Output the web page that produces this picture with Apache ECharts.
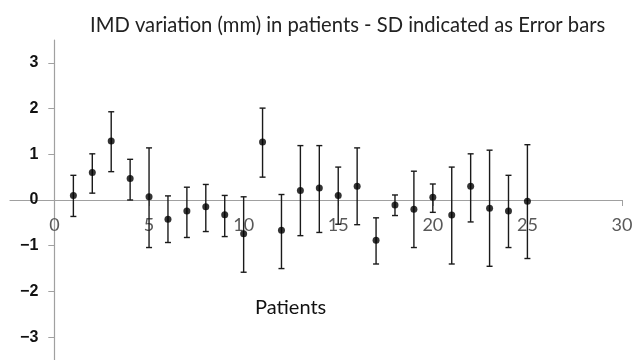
<!DOCTYPE html>
<html>
<head>
<meta charset="utf-8">
<script src="https://cdn.jsdelivr.net/npm/echarts@6/dist/echarts.min.js"></script>
<style>
  html, body { margin: 0; padding: 0; background: #fff; }
  #main { width: 633px; height: 360px; }
</style>
</head>
<body>
<div id="main"></div>
<script>
// patients 1..25
const patients = [1,2,3,4,5,6,7,8,9,10,11,12,13,14,15,16,17,18,19,20,21,22,23,24,25];
// mean IMD variation (mm)
const means = [0.10,0.60,1.29,0.47,0.07,-0.42,-0.24,-0.15,-0.32,-0.74,1.27,-0.66,0.21,0.26,0.10,0.30,-0.88,-0.11,-0.20,0.06,-0.33,0.30,-0.18,-0.24,-0.03];
// SD error bar ends
const barTop = [0.54,1.01,1.93,0.89,1.14,0.09,0.28,0.34,0.10,0.07,2.01,0.12,1.19,1.19,0.72,1.14,-0.39,0.11,0.63,0.35,0.72,1.01,1.09,0.54,1.21];
const barBottom = [-0.36,0.15,0.62,0.00,-1.04,-0.93,-0.82,-0.69,-0.80,-1.58,0.50,-1.50,-0.78,-0.71,-0.53,-0.54,-1.40,-0.34,-1.04,-0.27,-1.40,-0.48,-1.45,-1.04,-1.28];
const xTicks = [0,5,10,15,20,25,30];
const yTicks = [-3,-2,-1,0,1,2,3];

const chart = echarts.init(document.getElementById('main'));

const pointData = patients.map((p, i) => [p, means[i]]);
const errData = patients.map((p, i) => [p, barBottom[i], barTop[i]]);

// vertical SD bar with caps
function renderErr(params, api) {
  const x = api.value(0);
  const lo = api.coord([x, api.value(1)]);
  const hi = api.coord([x, api.value(2)]);
  const cap = 3;
  const style = { stroke: '#1a1a1a', lineWidth: 1.4 };
  return {
    type: 'group',
    children: [
      { type: 'line', shape: { x1: lo[0], y1: lo[1], x2: hi[0], y2: hi[1] }, style: style },
      { type: 'line', shape: { x1: hi[0] - cap, y1: hi[1], x2: hi[0] + cap, y2: hi[1] }, style: style },
      { type: 'line', shape: { x1: lo[0] - cap, y1: lo[1], x2: lo[0] + cap, y2: lo[1] }, style: style }
    ]
  };
}

chart.setOption({
  animation: false,
  title: [
    {
      text: 'IMD variation (mm) in patients - SD indicated as Error bars',
      left: 85, top: 10,
      textStyle: { fontFamily: 'Lato', fontSize: 20.2, fontWeight: 'normal', color: '#222' }
    },
    {
      text: 'Patients',
      left: 250, top: 293,
      textStyle: { fontFamily: 'Lato', fontSize: 20, fontWeight: 'normal', color: '#111' }
    }
  ],
  grid: { left: 10, right: 11, top: 40, bottom: 0, outerBoundsMode: 'none' },
  xAxis: {
    type: 'value',
    min: -2.35, max: 30,
    offset: -160,
    axisLine: { onZero: false, lineStyle: { color: '#a0a0a0', width: 1.2 } },
    axisTick: { customValues: xTicks, length: 6, lineStyle: { color: '#a0a0a0' } },
    axisLabel: {
      customValues: xTicks,
      margin: 16,
      color: '#595959', fontSize: 18, fontFamily: 'Lato'
    },
    splitLine: { show: false }
  },
  yAxis: {
    type: 'value',
    min: -3.5, max: 3.5,
    offset: -44.3,
    axisLine: { show: true, onZero: false, lineStyle: { color: '#a0a0a0', width: 1.2 } },
    axisTick: { show: true, customValues: yTicks, length: 6, lineStyle: { color: '#a0a0a0' } },
    axisLabel: {
      customValues: yTicks,
      margin: 16,
      color: '#111', fontSize: 16, fontWeight: 'bold', fontFamily: 'Liberation Sans',
      formatter: v => v < 0 ? '\u2212' + Math.abs(v) : String(v)
    },
    splitLine: { show: false }
  },
  series: [
    {
      type: 'custom',
      renderItem: renderErr,
      data: errData,
      encode: { x: 0, y: [1, 2] },
      z: 2
    },
    {
      type: 'scatter',
      data: pointData,
      symbol: 'circle',
      symbolSize: 7,
      itemStyle: { color: '#000' },
      z: 3
    }
  ]
});
</script>
</body>
</html>
